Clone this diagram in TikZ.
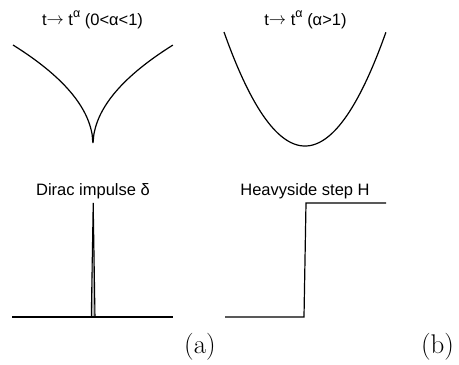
\documentclass[tikz,border=0pt]{standalone}
\usepackage{fontspec}
\setmainfont{Liberation Serif}
\newfontfamily\lsans{Liberation Sans}
\newfontfamily\lmr{Latin Modern Roman}
\newcommand{\myarr}{\raisebox{0.5pt}{$\rightarrow$}}
\newcommand{\supa}{\raisebox{7.5pt}{\fontsize{12.5}{12}\selectfont α}}
\tikzset{
  lbl/.style={font=\lsans\fontsize{16.5}{18}\selectfont, anchor=base, inner sep=0pt},
  tag/.style={font=\lmr\fontsize{27}{30}\selectfont, anchor=base, inner sep=0pt},
  crv/.style={line width=1.2pt, line join=round},
  ln/.style={line width=1.2pt, line join=miter},
}
\begin{document}
\begin{tikzpicture}[x=1pt,y=-1pt]
\useasboundingbox (0,0) rectangle (459,365);
% labels
\node[lbl] (l1) at (92.5,25) {t\myarr{} t\supa{} (0<α<1)};
\node[lbl] (l2) at (305.5,25) {t\myarr{} t\supa{} (α>1)};
\node[lbl] (l3) at (93,195) {Dirac impulse δ};
\node[lbl] (l4) at (305,195) {Heavyside step H};
\node[tag] (ta) at (200,353) {(a)};
\node[tag] (tb) at (437.5,353) {(b)};
% cusp curve t^0.5
\draw[crv] plot[domain=-1:1, samples=201, smooth] ({93+80*\x},{145-100*sqrt(abs(\x))});
% parabola
\draw[crv] plot[domain=-1:1, samples=101, smooth] ({305+81*\x},{146-114*\x*\x});
% Dirac
\coordinate (d0) at (12,317);
\coordinate (d1) at (173,317);
\coordinate (sl) at (91.3,317);
\coordinate (st) at (93.2,203);
\coordinate (sr) at (95,317);
\fill[gray!55] (sl) -- (st) -- (sr) -- cycle;
\draw[line width=1.1pt] (sl) -- (st) -- (sr);
\draw[ln] (d0) -- (d1);
% Heaviside
\coordinate (h0) at (225,317);
\coordinate (h1) at (304,317);
\coordinate (h2) at (306,203);
\coordinate (h3) at (386,203);
\draw[ln] (h0) -- (h1) -- (h2) -- (h3);
\end{tikzpicture}
\end{document}
